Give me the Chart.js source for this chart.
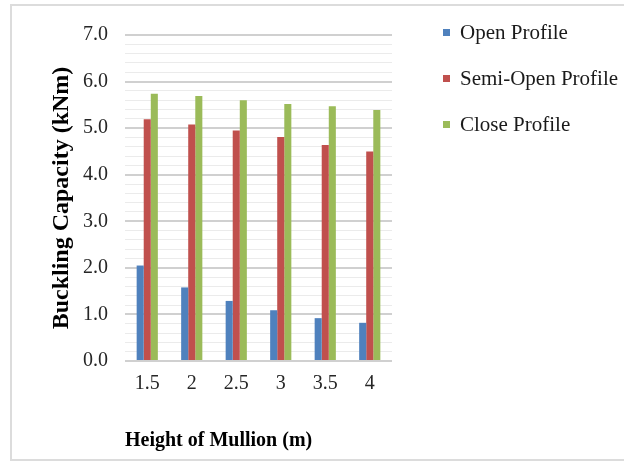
<!DOCTYPE html>
<html>
<head>
<meta charset="utf-8">
<script src="https://cdn.jsdelivr.net/npm/chart.js@4/dist/chart.umd.min.js"></script>
<style>
  html, body { margin: 0; padding: 0; background: #fff; }
  #frame { position: absolute; left: 10px; top: 4px; width: 640px; height: 457px; border: 2px solid #dcdcdc; box-sizing: border-box; }
  #wrap { position: absolute; left: 0; top: 0; width: 624px; height: 466px; }
  #legend { position: absolute; left: 443px; top: 22px; font-family: 'Liberation Serif', 'Times New Roman', serif; font-size: 21px; color: #1a1a1a; }
  #legend .item { display: flex; align-items: center; height: 20px; margin-bottom: 26px; white-space: nowrap; }
  #legend .box { width: 7px; height: 7px; margin-right: 10px; flex: none; }
  #legend .txt { line-height: 20px; }
</style>
</head>
<body>
<div id="frame"></div>
<div id="wrap"><canvas id="c" width="624" height="466"></canvas></div>
<div id="legend"></div>
<script>
// ---- data ----
const categories = ['1.5', '2', '2.5', '3', '3.5', '4'];
const seriesNames = ['Open Profile', 'Semi-Open Profile', 'Close Profile'];
const openProfile = [2.05, 1.58, 1.29, 1.09, 0.92, 0.82];
const semiOpenProfile = [5.19, 5.08, 4.95, 4.81, 4.64, 4.50];
const closeProfile = [5.74, 5.69, 5.60, 5.52, 5.47, 5.39];
const yMin = 0, yMax = 7, yStep = 0.2;

const colors = ['#4F81BD', '#C0504D', '#9BBB59'];
const FONT = "'Liberation Serif', 'Times New Roman', serif";

const isMajor = v => Math.abs(v - Math.round(v)) < 1e-6;

const chart = new Chart(document.getElementById('c'), {
  type: 'bar',
  data: {
    labels: categories,
    datasets: [
      { label: seriesNames[0], data: openProfile, backgroundColor: colors[0], borderWidth: 0 },
      { label: seriesNames[1], data: semiOpenProfile, backgroundColor: colors[1], borderWidth: 0 },
      { label: seriesNames[2], data: closeProfile, backgroundColor: colors[2], borderWidth: 0 }
    ]
  },
  options: {
    responsive: false,
    animation: false,
    devicePixelRatio: 1,
    datasets: { bar: { barPercentage: 1, categoryPercentage: 1 / 2.1 } },
    layout: { padding: { left: 47, top: 35, right: 232, bottom: 0 } },
    plugins: {
      tooltip: { enabled: false },
      legend: { display: false }
    },
    scales: {
      x: {
        grid: { display: false },
        border: { display: false },
        ticks: { color: '#262626', padding: 3, font: { family: FONT, size: 20 } },
        title: {
          display: true, text: 'Height of Mullion (m)', align: 'start', color: '#000',
          font: { family: FONT, size: 20, weight: 'bold' }, padding: { top: 34, bottom: 13 }
        },
        afterFit: s => { s.height = 105; }
      },
      y: {
        min: yMin, max: yMax,
        border: { display: false },
        grid: {
          drawTicks: false,
          color: c => (c.tick && isMajor(c.tick.value)) ? '#d0d0d0' : '#ebebeb',
          lineWidth: c => (c.tick && isMajor(c.tick.value)) ? 2 : 1
        },
        ticks: {
          stepSize: yStep, autoSkip: false, padding: 17, color: '#262626',
          font: { family: FONT, size: 20 },
          callback: v => isMajor(v) ? Number(v).toFixed(1) : ''
        },
        title: {
          display: true, text: 'Buckling Capacity (kNm)', color: '#000',
          font: { family: FONT, size: 24, weight: 'bold' }, padding: { top: 0, bottom: 6 }
        },
        afterFit: s => { s.width = 78; }
      }
    }
  }
});

// HTML legend built from the chart's datasets
const legendEl = document.getElementById('legend');
chart.data.datasets.forEach(ds => {
  const item = document.createElement('div');
  item.className = 'item';
  const box = document.createElement('span');
  box.className = 'box';
  box.style.background = ds.backgroundColor;
  const txt = document.createElement('span');
  txt.className = 'txt';
  txt.textContent = ds.label;
  item.appendChild(box);
  item.appendChild(txt);
  legendEl.appendChild(item);
});
</script>
</body>
</html>
